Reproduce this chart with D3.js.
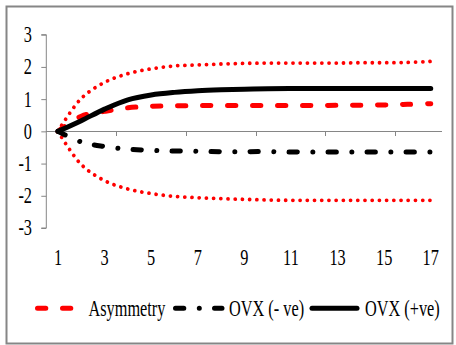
<!DOCTYPE html>
<html>
<head>
<meta charset="utf-8">
<script src="https://cdn.jsdelivr.net/npm/d3@7"></script>
<style>
  html, body { margin: 0; padding: 0; background: #fff; }
  svg { display: block; }
  text { font-family: "Liberation Serif", "Times New Roman", serif; fill: #000; }
</style>
</head>
<body>
<svg id="chart" width="456" height="345"></svg>
<script>
// Impulse response horizons
const periods = [1, 2, 3, 4, 5, 6, 7, 8, 9, 10, 11, 12, 13, 14, 15, 16, 17];
const xTickLabels = [1, 3, 5, 7, 9, 11, 13, 15, 17];
const yTickValues = [-3, -2, -1, 0, 1, 2, 3];

// Responses
const asymmetry = [0, 0.47, 0.62, 0.73, 0.78, 0.79, 0.80, 0.80, 0.80, 0.80, 0.80, 0.80, 0.81, 0.81, 0.82, 0.84, 0.86];
const ovxNeg    = [0, -0.33, -0.47, -0.55, -0.59, -0.61, -0.62, -0.63, -0.63, -0.63, -0.64, -0.64, -0.64, -0.64, -0.64, -0.64, -0.64];
const ovxPos    = [0, 0.33, 0.69, 0.98, 1.13, 1.21, 1.26, 1.29, 1.31, 1.32, 1.33, 1.33, 1.33, 1.33, 1.33, 1.33, 1.33];
// Confidence band
const upperBand = [0, 1.02, 1.52, 1.79, 1.94, 2.03, 2.06, 2.09, 2.11, 2.12, 2.12, 2.12, 2.12, 2.13, 2.13, 2.14, 2.17];
const lowerBand = [0, -1.03, -1.53, -1.79, -1.93, -2.02, -2.06, -2.09, -2.11, -2.13, -2.14, -2.14, -2.14, -2.14, -2.14, -2.14, -2.14];

const legendNames = ["Asymmetry", "OVX (- ve)", "OVX (+ve)"];

const svg = d3.select("#chart");
const FONT = 16.3, STRETCH = 1.36, GREY = "#868686";

// Frame
svg.append("rect")
  .attr("x", 6.5).attr("y", 6.5).attr("width", 446).attr("height", 337)
  .attr("fill", "#fff").attr("stroke", GREY).attr("stroke-width", 2);

const x = d3.scaleBand().domain(periods).range([46.3, 442.4]).paddingInner(0).paddingOuter(0);
const y = d3.scaleLinear().domain([-3, 3]).range([228, 34.7]);
const cx = d => x(d) + x.bandwidth() / 2;

// Y axis
const yAxis = svg.append("g").attr("transform", "translate(46.3,0)")
  .call(d3.axisLeft(y).tickValues(yTickValues).tickSize(5).tickFormat(""));
yAxis.select(".domain").attr("stroke", GREY).attr("d", `M-5,${y(3)}H0V${y(-3)}H-5`);
yAxis.selectAll(".tick line").attr("stroke", GREY);

// Y labels (stretched glyphs)
svg.append("g").selectAll("g").data(yTickValues).join("g")
  .attr("transform", d => `translate(32,${y(d) + 7.4}) scale(1,${STRETCH})`)
  .append("text").attr("text-anchor", "end").attr("font-size", FONT)
  .text(d => d);

// X axis along zero, ticks every three categories
const xAxisG = svg.append("g").attr("transform", `translate(0,${y(0)})`);
xAxisG.append("line").attr("x1", x.range()[0]).attr("x2", x.range()[1])
  .attr("stroke", GREY).attr("shape-rendering", "crispEdges");
const boundaries = periods.filter((p, i) => i % 3 === 0 && i > 0).map(p => x(p));
xAxisG.selectAll("line.tk").data(boundaries).join("line").attr("class", "tk")
  .attr("x1", d => d).attr("x2", d => d).attr("y1", 0).attr("y2", 5)
  .attr("stroke", GREY).attr("shape-rendering", "crispEdges");

svg.append("g").selectAll("g").data(xTickLabels).join("g")
  .attr("transform", d => `translate(${cx(d)},265) scale(1,${STRETCH})`)
  .append("text").attr("text-anchor", "middle").attr("font-size", FONT)
  .text(d => d);

// Series lines (smoothed)
const line = d3.line().x((v, i) => cx(periods[i])).y(v => y(v)).curve(d3.curveCatmullRom.alpha(0.5));

const styles = {
  band:  { stroke: "#ff0000", width: 3.8, dash: "0.01,7.2" },
  asym:  { stroke: "#ff0000", width: 5, dash: "8.3,16.7" },
  neg:   { stroke: "#000", width: 5, dash: "8.3,15.5,0.01,15.2" },
  pos:   { stroke: "#000", width: 5, dash: null }
};

const series = [
  { values: upperBand, s: styles.band },
  { values: lowerBand, s: styles.band },
  { values: asymmetry, s: styles.asym },
  { values: ovxNeg, s: styles.neg },
  { values: ovxPos, s: styles.pos }
];

svg.append("g").selectAll("path").data(series).join("path")
  .attr("d", d => line(d.values))
  .attr("fill", "none")
  .attr("stroke", d => d.s.stroke)
  .attr("stroke-width", d => d.s.width)
  .attr("stroke-linecap", "round")
  .attr("stroke-linejoin", "round")
  .attr("stroke-dasharray", d => d.s.dash);

// Legend
const legendItems = [
  { name: legendNames[0], s: styles.asym, x1: 37.5, x2: 70.8, tx: 88.5 },
  { name: legendNames[1], s: styles.neg, x1: 175.5, x2: 222, tx: 229 },
  { name: legendNames[2], s: styles.pos, x1: 312, x2: 357, tx: 365 }
];
const lg = svg.append("g");
legendItems.forEach(it => {
  lg.append("line")
    .attr("x1", it.x1).attr("x2", it.x2).attr("y1", 308.3).attr("y2", 308.3)
    .attr("stroke", it.s.stroke).attr("stroke-width", it.s.width)
    .attr("stroke-linecap", "round").attr("stroke-dasharray", it.s.dash);
  lg.append("g").attr("transform", `translate(${it.tx},315.5) scale(1,${STRETCH})`)
    .append("text").attr("font-size", FONT).text(it.name);
});
</script>
</body>
</html>
